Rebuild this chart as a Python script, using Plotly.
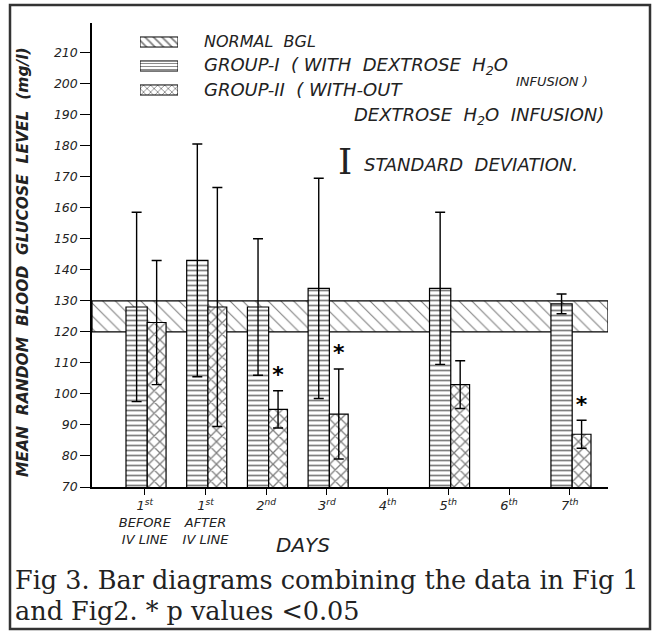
import plotly.graph_objects as go

# ---------------- data ----------------
day_labels = [
    "1<sup>st</sup><br>BEFORE<br>IV LINE",
    "1<sup>st</sup><br>AFTER<br>IV LINE",
    "2<sup>nd</sup>",
    "3<sup>rd</sup>",
    "4<sup>th</sup>",
    "5<sup>th</sup>",
    "6<sup>th</sup>",
    "7<sup>th</sup>",
]
group1_mean = [128, 143, 128, 134, None, 134, None, 129]
group1_sd = [30.5, 37.5, 22, 35.5, None, 24.5, None, 3.2]
group2_mean = [123, 128, 95, 93.5, None, 103, None, 87]
group2_sd = [20, 38.5, 6, 14.5, None, 7.7, None, 4.5]
significant = [False, False, True, True, False, False, False, True]
normal_low = 120
normal_high = 130
y_ticks = [70, 80, 90, 100, 110, 120, 130, 140, 150, 160, 170, 180, 190, 200, 210]
y_ticktext = ["70", "80", "90", "100", "110", "120", "130", "140", "150",
              "160", "170", "180", "190", "200", "210"]
legend_labels = ["NORMAL  BGL", "GROUP-I  ( WITH  DEXTROSE  H<sub>2</sub>O",
                 "GROUP-II  ( WITH-OUT"]
legend_patterns = ["\\", "-", "x"]

# ---------------- layout helpers ----------------
W, H = 655, 634
L, R, T, B = 92, 47, 23, 147
X_RANGE = [-0.87, 7.63]
Y_RANGE = [70, 219.5]


def px(xp):
    return (xp - L) / (W - L - R)


def py(yp):
    return (H - B - yp) / (H - T - B)


x_pos = list(range(len(day_labels)))
hand = "DejaVu Sans"
ink = "#222"

fig = go.Figure()

# Normal BGL band
fig.add_trace(go.Bar(
    x=[(X_RANGE[0] + X_RANGE[1]) / 2], y=[normal_high - normal_low], base=[normal_low],
    width=[X_RANGE[1] - X_RANGE[0]],
    name="NORMAL BGL", showlegend=False,
    marker=dict(color="white", line=dict(color="black", width=1.2),
                pattern=dict(shape="\\", fgcolor="black", bgcolor="white", size=9, solidity=0.12)),
    hoverinfo="skip",
))

# Group I
fig.add_trace(go.Bar(
    x=x_pos, y=group1_mean, offset=-0.31, width=0.35,
    name="GROUP-I", showlegend=False,
    marker=dict(color="white", line=dict(color="black", width=1.2),
                pattern=dict(shape="-", fgcolor="black", bgcolor="white", size=5, solidity=0.35)),
    error_y=dict(type="data", array=group1_sd, color="black", thickness=1.4, width=5),
))

# Group II
fig.add_trace(go.Bar(
    x=x_pos, y=group2_mean, offset=0.04, width=0.31,
    name="GROUP-II", showlegend=False,
    marker=dict(color="white", line=dict(color="black", width=1.2),
                pattern=dict(shape="x", fgcolor="black", bgcolor="white", size=8, solidity=0.3)),
    error_y=dict(type="data", array=group2_sd, color="black", thickness=1.4, width=5),
))

# significance stars
star_x = [x + 0.195 for x, s in zip(x_pos, significant) if s]
star_y = [m + sd + 1 for m, sd, s in zip(group2_mean, group2_sd, significant) if s]
fig.add_trace(go.Scatter(
    x=star_x, y=star_y, mode="text", text=["<b>*</b>"] * len(star_x),
    textposition="top center", textfont=dict(size=22, color="black", family=hand),
    showlegend=False, hoverinfo="skip",
))

# legend swatches (own small axis)
leg_idx = list(range(len(legend_labels)))
fig.add_trace(go.Bar(
    x=[1] * len(leg_idx), y=leg_idx, orientation="h", width=0.42,
    xaxis="x2", yaxis="y2", showlegend=False, hoverinfo="skip",
    marker=dict(color="white", line=dict(color="black", width=1),
                pattern=dict(shape=legend_patterns, fgcolor="black", bgcolor="white",
                             size=[6, 3, 5], solidity=0.3)),
))

fig.update_layout(
    width=W, height=H,
    margin=dict(l=L, r=R, t=T, b=B, pad=0),
    paper_bgcolor="white", plot_bgcolor="white",
    barmode="overlay",
    showlegend=False,
    xaxis=dict(range=X_RANGE, tickmode="array", tickvals=x_pos, ticktext=day_labels,
               showline=True, linecolor="black", linewidth=1.5, ticks="outside",
               ticklen=6, tickcolor="black", showgrid=False, zeroline=False,
               tickfont=dict(family=hand, size=13, style="italic", color=ink)),
    yaxis=dict(range=Y_RANGE, tickmode="array", tickvals=y_ticks, ticktext=y_ticktext,
               showline=True, linecolor="black", linewidth=1.5, ticks="outside",
               ticklen=10, tickcolor="black", showgrid=False, zeroline=False,
               tickfont=dict(family=hand, size=12.5, style="italic", color=ink)),
    xaxis2=dict(domain=[px(140), px(178)], range=[0, 1], visible=False, anchor="y2",
                fixedrange=True),
    yaxis2=dict(domain=[py(100), py(32)], range=[2.417, -0.417], visible=False,
                anchor="x2", fixedrange=True),
)

ann = [
    dict(text="<b>MEAN  RANDOM  BLOOD  GLUCOSE  LEVEL  (mg/l)</b>", x=px(23), y=py(262),
         textangle=-90, font=dict(family=hand, size=15.5, style="italic", color=ink)),
    dict(text="DAYS", x=px(303), y=py(545),
         font=dict(family=hand, size=20, style="italic", color=ink)),
    dict(text="INFUSION )", x=px(514), y=py(81), xanchor="left",
         font=dict(family=hand, size=13, style="italic", color=ink)),
    dict(text="DEXTROSE  H<sub>2</sub>O  INFUSION)", x=px(352), y=py(116), xanchor="left",
         font=dict(family=hand, size=18, style="italic", color=ink)),
    dict(text="I", x=px(345), y=py(161),
         font=dict(family="DejaVu Serif", size=36, color=ink)),
    dict(text="STANDARD  DEVIATION.", x=px(362), y=py(164), xanchor="left",
         font=dict(family=hand, size=18, style="italic", color=ink)),
    dict(text="Fig 3. Bar diagrams combining the data in Fig 1", x=px(13), y=py(580),
         xanchor="left", font=dict(family="DejaVu Serif", size=25.5, color=ink)),
    dict(text="and Fig2. * p values &lt;0.05", x=px(13), y=py(611),
         xanchor="left", font=dict(family="DejaVu Serif", size=25.5, color=ink)),
]
leg_y = [42, 66, 90]
leg_size = [16, 18, 18]
for lab, yy, sz in zip(legend_labels, leg_y, leg_size):
    ann.append(dict(text=lab, x=px(202), y=py(yy), xanchor="left",
                    font=dict(family=hand, size=sz, style="italic", color=ink)))
for a in ann:
    a.setdefault("xanchor", "center")
    fig.add_annotation(xref="paper", yref="paper", yanchor="middle", showarrow=False, **a)

# outer frame
fig.add_shape(type="rect", xref="paper", yref="paper",
              x0=px(10), x1=px(650), y0=py(629), y1=py(5),
              line=dict(color="#333", width=2.5), layer="above")

fig.write_html("out.html", config={"displayModeBar": False},
               post_script="document.body.style.margin='0';document.body.style.overflow='hidden';")
